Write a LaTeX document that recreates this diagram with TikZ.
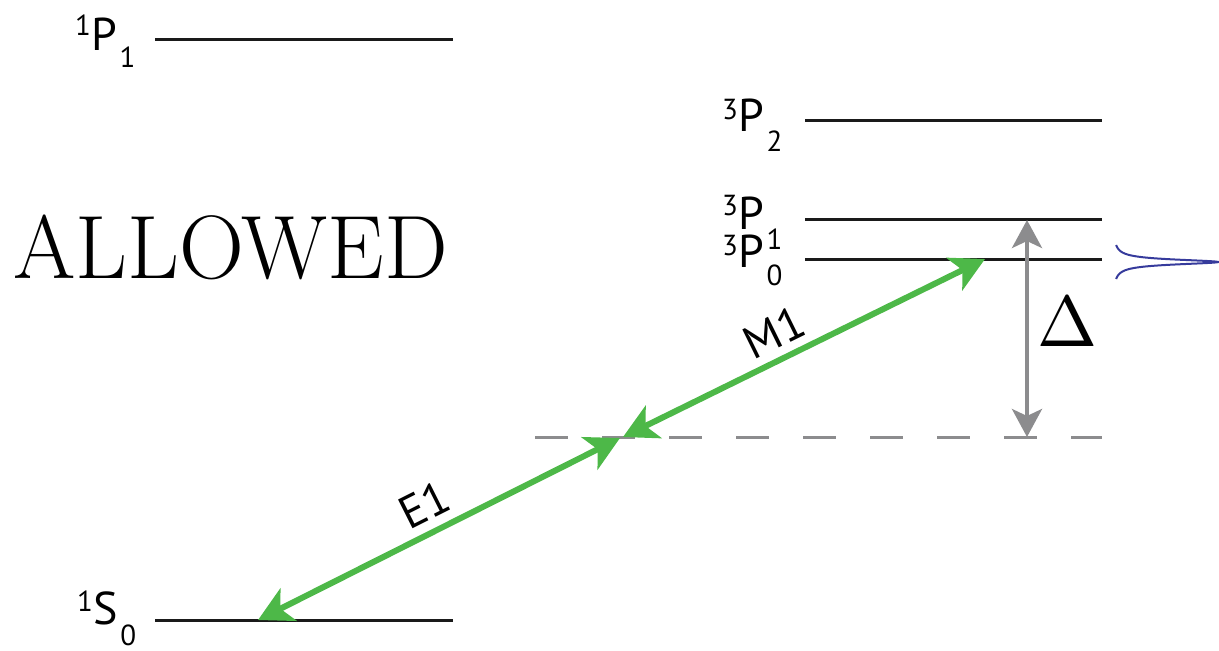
\documentclass[tikz,border=0pt]{standalone}
\usepackage{fontspec}
\newfontfamily\termfont{PT Sans}
\usepackage{tikz}
\usetikzlibrary{positioning,arrows.meta,calc}
\definecolor{trgreen}{HTML}{4DB848}
\definecolor{trgray}{HTML}{8C8C8E}
\definecolor{trblue}{HTML}{363B9C}
\definecolor{trink}{HTML}{1A1A1A}
% term symbol: sup, letter, sub, raise, drop
\newcommand{\term}[5]{{\termfont\fontsize{46}{46}\selectfont
  \raisebox{#4}{\fontsize{29}{29}\selectfont #1}#2\kern3pt\raisebox{-#5}{\fontsize{29}{29}\selectfont #3}}}

\begin{document}
\begin{tikzpicture}[
  x=1pt, y=-1pt,
  level/.style={draw=trink, line width=3pt},
  lbl/.style={anchor=base west, inner sep=0pt},
  trans/.style={draw=trgreen, line width=6pt,
    {Stealth[length=34pt, width=36pt, inset=9pt]}-{Stealth[length=34pt, width=36pt, inset=9pt]}},
  tlbl/.style={font=\termfont\fontsize{46}{46}\selectfont, inner sep=0pt, sloped},
  detune/.style={draw=trgray, line width=4pt,
    {Stealth[length=28pt, width=30pt, inset=7pt]}-{Stealth[length=28pt, width=30pt, inset=7pt]}},
  virt/.style={draw=trgray, line width=3pt, dash pattern=on 33pt off 34pt},
  ]
  \useasboundingbox (0,0) rectangle (1219,651);

  \coordinate (p1a) at (155,39);  \coordinate (p1b) at (453,39);
  \coordinate (s0a) at (155,620); \coordinate (s0b) at (453,620);
  \coordinate (t2a) at (805,120); \coordinate (t2b) at (1102,120);
  \coordinate (t1a) at (805,219); \coordinate (t1b) at (1102,219);
  \coordinate (t0a) at (805,259); \coordinate (t0b) at (1102,259);
  \coordinate (va) at (535,437);  \coordinate (vb) at (1102,437);

  \draw[level] (p1a) -- (p1b);
  \draw[level] (s0a) -- (s0b);
  \draw[level] (t2a) -- (t2b);
  \draw[level] (t1a) -- (t1b);
  \draw[level] (t0a) -- (t0b);
  \draw[virt] (va) -- (vb);

  \node[lbl] (p1) at (75,50) {\term{1}{P}{1}{15pt}{17pt}};
  \node[lbl] (s0) at (77,624) {\term{1}{S}{0}{13pt}{21pt}};
  \node[lbl] (t2) at (722,131) {\term{3}{P}{2}{12pt}{20pt}};
  \node[lbl] (t1) at (722,229) {\term{3}{P}{1}{14pt}{20pt}};
  \node[lbl] (t0) at (722,267) {\term{3}{P}{0}{12pt}{18pt}};

  \node[lbl, font=\fontsize{90}{90}\selectfont] (allowed) at (13,278) {ALLOWED};

  \coordinate (s0t) at (258,620);
  \coordinate (e1t) at (620,438);
  \coordinate (m1t) at (623,437);
  \coordinate (t0t) at (985,259);
  \draw[trans] (s0t) -- (e1t) node[tlbl, pos=0.495, above=9pt] (e1) {E1};
  \draw[trans] (m1t) -- (t0t) node[tlbl, pos=0.45, above=8pt] (m1) {M1};

  \coordinate (dtop) at (1027,220);
  \coordinate (dbot) at (1027,437);
  \draw[detune] (dtop) -- (dbot);
  \node (delta) at (1067,322) {\scalebox{7.2}{$\Delta$}};

  \draw[trblue, line width=2pt] plot[domain=-17:17, samples=150, smooth]
    ({1113+105/(1+(\x/3)^2)}, {262+\x});
\end{tikzpicture}
\end{document}
